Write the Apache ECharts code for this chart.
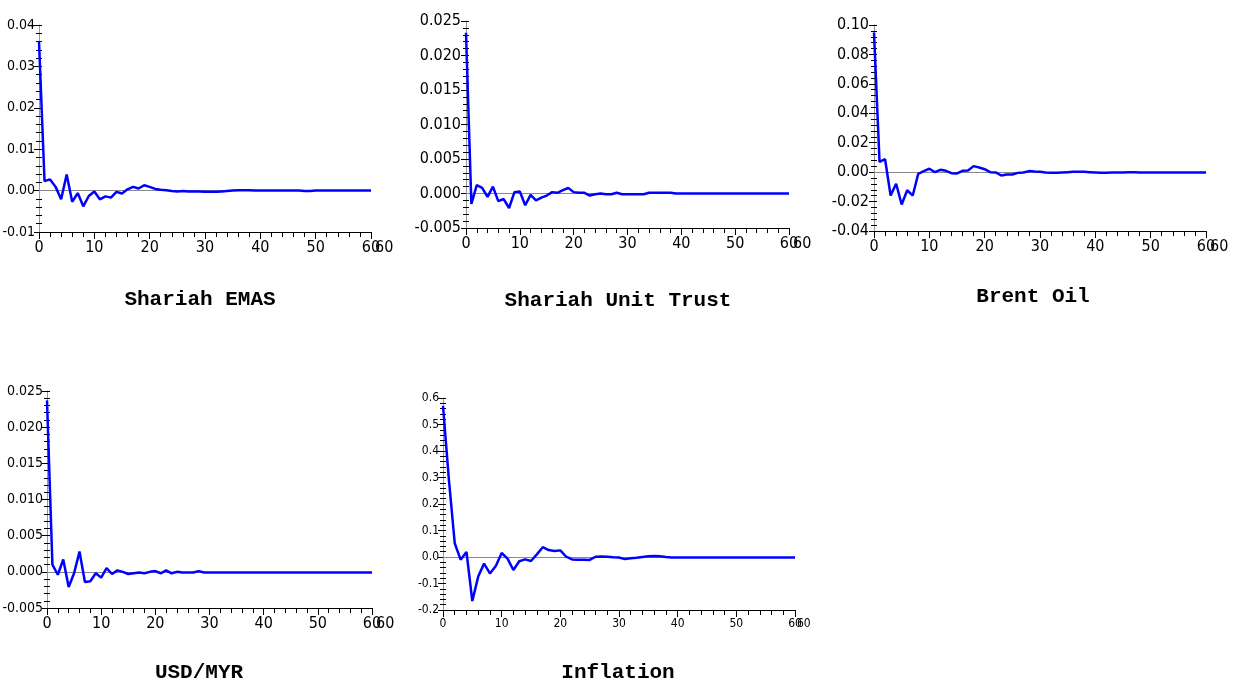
<!DOCTYPE html>
<html><head><meta charset="utf-8">
<script src="https://cdn.jsdelivr.net/npm/echarts@6/dist/echarts.min.js"></script>
<style>html,body{margin:0;padding:0;background:#fff}#c{width:1234px;height:684px}</style>
</head><body><div id="c"></div>
<script>
// Horizons 0..60
const periods = Array.from({length: 61}, (_, i) => i);

const shariahEmas = [
  0.0360, 0.0023, 0.0027, 0.0009, -0.0021, 0.0039, -0.0027, -0.0006, -0.0038, -0.0013,
  -0.0002, -0.0021, -0.0014, -0.0017, -0.0003, -0.0007, 0.0003, 0.0009, 0.0005, 0.0013,
  0.0009, 0.0004, 0.0002, 0.0001, -0.0001, -0.0002, -0.0001, -0.0002, -0.0002, -0.0002,
  -0.0003, -0.0003, -0.0003, -0.0002, -0.0001, 0.0000, 0.0001, 0.0001, 0.0001, 0.0000,
  0.0000, 0.0000, 0.0000, 0.0000, 0.0000, 0.0000, 0.0000, 0.0000, -0.0001, -0.0001,
  0.0000, 0.0000, 0.0000, 0.0000, 0.0000, 0.0000, 0.0000, 0.0000, 0.0000, 0.0000, 0.0000
];
const shariahUnitTrust = [
  0.0233, -0.0015, 0.0012, 0.0008, -0.0005, 0.0010, -0.0011, -0.0008, -0.0021, 0.0002,
  0.0003, -0.0017, -0.0002, -0.0010, -0.0006, -0.0003, 0.0002, 0.0001, 0.0005, 0.0008,
  0.0002, 0.0001, 0.0001, -0.0003, -0.0001, 0.0000, -0.0001, -0.0001, 0.0001, -0.0001,
  -0.0001, -0.0001, -0.0001, -0.0001, 0.0001, 0.0001, 0.0001, 0.0001, 0.0001, 0.0000,
  0.0000, 0.0000, 0.0000, 0.0000, 0.0000, 0.0000, 0.0000, 0.0000, 0.0000, 0.0000,
  0.0000, 0.0000, 0.0000, 0.0000, 0.0000, 0.0000, 0.0000, 0.0000, 0.0000, 0.0000, 0.0000
];
const brentOil = [
  0.0949, 0.0070, 0.0088, -0.0159, -0.0079, -0.0220, -0.0123, -0.0159, -0.0011, 0.0007,
  0.0023, 0.0000, 0.0016, 0.0009, -0.0007, -0.0009, 0.0009, 0.0011, 0.0041, 0.0032,
  0.0020, 0.0000, -0.0002, -0.0023, -0.0016, -0.0016, -0.0005, -0.0002, 0.0007, 0.0004,
  0.0002, -0.0002, -0.0004, -0.0004, -0.0002, 0.0000, 0.0002, 0.0002, 0.0002, 0.0000,
  -0.0002, -0.0004, -0.0004, -0.0003, -0.0002, -0.0002, -0.0001, -0.0001, -0.0002, -0.0002,
  -0.0002, -0.0002, -0.0002, -0.0002, -0.0002, -0.0002, -0.0002, -0.0002, -0.0002, -0.0002, -0.0002
];
const usdMyr = [
  0.0237, 0.0010, -0.0004, 0.0017, -0.0021, -0.0002, 0.0028, -0.0014, -0.0013, -0.0002,
  -0.0008, 0.0005, -0.0003, 0.0002, 0.0000, -0.0003, -0.0002, -0.0001, -0.0002, 0.0000,
  0.0001, -0.0002, 0.0002, -0.0002, 0.0000, -0.0001, -0.0001, -0.0001, 0.0001, -0.0001,
  -0.0001, -0.0001, -0.0001, -0.0001, -0.0001, -0.0001, -0.0001, -0.0001, -0.0001, -0.0001,
  -0.0001, -0.0001, -0.0001, -0.0001, -0.0001, -0.0001, -0.0001, -0.0001, -0.0001, -0.0001,
  -0.0001, -0.0001, -0.0001, -0.0001, -0.0001, -0.0001, -0.0001, -0.0001, -0.0001, -0.0001, -0.0001
];
const inflation = [
  0.570, 0.293, 0.052, -0.010, 0.019, -0.166, -0.074, -0.025, -0.062, -0.034,
  0.015, -0.006, -0.049, -0.016, -0.009, -0.015, 0.010, 0.037, 0.026, 0.023,
  0.025, 0.001, -0.009, -0.010, -0.010, -0.011, 0.001, 0.002, 0.001, -0.001,
  -0.002, -0.008, -0.005, -0.003, 0.000, 0.003, 0.004, 0.003, 0.000, -0.002,
  -0.002, -0.002, -0.002, -0.002, -0.002, -0.002, -0.002, -0.002, -0.002, -0.002,
  -0.002, -0.002, -0.002, -0.002, -0.002, -0.002, -0.002, -0.002, -0.002, -0.002, -0.002
];

const panelTitles = ['Shariah EMAS', 'Shariah Unit Trust', 'Brent Oil', 'USD/MYR', 'Inflation'];
const panelData = [shariahEmas, shariahUnitTrust, brentOil, usdMyr, inflation];
const yMins = [-0.01, -0.005, -0.04, -0.005, -0.2];
const yMaxs = [0.04, 0.025, 0.10, 0.025, 0.6];
const yIntervals = [0.01, 0.005, 0.02, 0.005, 0.1];
const yDecimals = [2, 3, 2, 3, 1];

// layout (pixels)
const layouts = [
  {left: 39, top: 25, width: 332, height: 207, tx: 200, ty: 289, fx: 16, fy: 14, ym: 4, pad: 4},
  {left: 466, top: 21, width: 323, height: 207, tx: 618, ty: 290, fx: 16, fy: 16, ym: 5, pad: 4},
  {left: 874, top: 25, width: 332, height: 206, tx: 1033, ty: 286, fx: 16, fy: 16, ym: 5, pad: 4},
  {left: 47, top: 391, width: 325, height: 217, tx: 199, ty: 662, fx: 16, fy: 14, ym: 4, pad: 4},
  {left: 443, top: 398, width: 352, height: 212, tx: 618, ty: 662, fx: 12, fy: 12, ym: 4, pad: 2}
];

const narrow = "'Liberation Sans Narrow','Arial Narrow','DejaVu Sans Condensed',sans-serif";
const grids = [], xAxes = [], yAxes = [], series = [], titles = [];

panelTitles.forEach((name, i) => {
  const L = layouts[i];
  const g = {left: L.left, top: L.top, width: L.width, height: L.height, containLabel: false, outerBoundsMode: 'none'};
  grids.push(Object.assign({}, g));
  grids.push(Object.assign({}, g));
  const gi = 2 * i, gd = 2 * i + 1;
  const dec = yDecimals[i];
  xAxes.push({
    type: 'value', gridIndex: gi, min: 0, max: 60, interval: 10,
    axisLine: {show: true, onZero: false, lineStyle: {color: '#000', width: 1}},
    axisTick: {show: true, length: 7, lineStyle: {color: '#000', width: 1}},
    minorTick: {show: true, splitNumber: 5, length: 5, lineStyle: {color: '#000', width: 1}},
    axisLabel: {color: '#000', fontSize: L.fx, fontFamily: narrow, margin: 8, showMaxLabel: true, showMinLabel: true},
    splitLine: {show: false}
  });
  xAxes.push({
    type: 'value', gridIndex: gd, min: 0, max: 60, interval: 10,
    axisLine: {show: false}, axisTick: {show: false},
    axisLabel: {color: '#000', fontSize: L.fx, fontFamily: narrow, margin: 8, align: 'left',
      padding: [0, 0, 0, L.pad], showMaxLabel: true,
      formatter: v => (v === 60 ? '60' : '')},
    splitLine: {show: false}
  });
  yAxes.push({
    type: 'value', gridIndex: gi, min: yMins[i], max: yMaxs[i], interval: yIntervals[i],
    axisLine: {show: true, onZero: false, lineStyle: {color: '#999', width: 1}},
    axisTick: {show: true, length: 5, lineStyle: {color: '#000', width: 1}},
    minorTick: {show: true, splitNumber: 5, length: 3, lineStyle: {color: '#000', width: 1}},
    axisLabel: {color: '#000', fontSize: L.fy, fontFamily: narrow, margin: L.ym,
      formatter: v => (Math.abs(v) < 1e-12 ? 0 : v).toFixed(dec)},
    splitLine: {show: false}
  });
  yAxes.push({
    type: 'value', gridIndex: gd, min: yMins[i], max: yMaxs[i], interval: yIntervals[i],
    axisLine: {show: false},
    axisTick: {show: true, inside: true, length: 3, lineStyle: {color: '#000', width: 1}},
    minorTick: {show: true, splitNumber: 5, length: 3, lineStyle: {color: '#000', width: 1}},
    axisLabel: {show: false}, splitLine: {show: false}
  });
  series.push({
    type: 'line', xAxisIndex: gi, yAxisIndex: gi,
    data: periods.map((p, j) => [p, panelData[i][j]]),
    showSymbol: false, symbol: 'none', smooth: false,
    lineStyle: {color: '#0000ff', width: 2.5},
    z: 3,
    markLine: {
      silent: true, symbol: ['none', 'none'], label: {show: false}, z: 1,
      lineStyle: {color: '#888', width: 1, type: 'solid'},
      data: [{yAxis: 0}]
    }
  });
  titles.push({
    text: name, left: L.tx, top: L.ty, textAlign: 'center', padding: 0,
    textStyle: {fontFamily: "'Liberation Mono','Courier New',monospace", fontWeight: 'bold', fontSize: 21, color: '#000'}
  });
});

const chart = echarts.init(document.getElementById('c'), null, {renderer: 'canvas'});
chart.setOption({
  backgroundColor: '#fff',
  animation: false,
  title: titles,
  grid: grids,
  xAxis: xAxes,
  yAxis: yAxes,
  series: series
});
</script>
</body></html>
